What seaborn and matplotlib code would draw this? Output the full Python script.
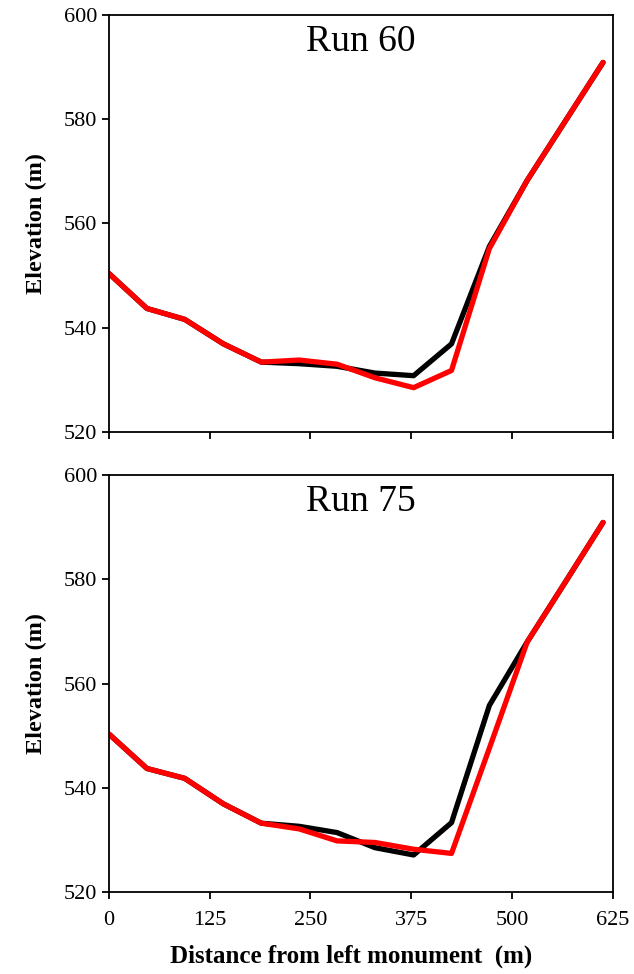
import pandas as pd
import seaborn as sns
import matplotlib
matplotlib.use('Agg')
import matplotlib.pyplot as plt

# distance from left monument (m)
distance = [0, 47, 94, 142, 189, 236, 283, 330, 378, 425, 472, 519, 566, 613]

# Run 60
run60_black = [550.4, 543.7, 541.6, 536.9, 533.4, 533.1, 532.6, 531.3, 530.8, 536.9, 555.6, 568.3, 579.6, 590.9]
run60_red = [550.4, 543.7, 541.6, 536.9, 533.4, 533.8, 533.0, 530.4, 528.5, 531.8, 555.2, 568.3, 579.6, 590.9]

# Run 75
run75_black = [550.3, 543.7, 541.8, 536.9, 533.2, 532.6, 531.4, 528.5, 527.1, 533.3, 555.8, 568.0, 579.4, 590.9]
run75_red = [550.3, 543.7, 541.8, 536.9, 533.2, 532.1, 529.8, 529.5, 528.2, 527.4, 547.6, 568.0, 579.4, 590.9]

runs = ['Run 60', 'Run 75']
series = {'Run 60': (run60_black, run60_red), 'Run 75': (run75_black, run75_red)}

sns.set_style("ticks")
plt.rcParams['font.family'] = ['Liberation Serif', 'DejaVu Serif']
plt.rcParams['text.color'] = 'black'
plt.rcParams['axes.labelcolor'] = 'black'
plt.rcParams['xtick.color'] = 'black'
plt.rcParams['ytick.color'] = 'black'

fig = plt.figure(figsize=(6.34, 9.74), dpi=100)
ax_top = fig.add_axes([0.1719, 0.5565, 0.7945, 0.4281])
ax_bot = fig.add_axes([0.1719, 0.0842, 0.7945, 0.4281])

for ax, run in zip([ax_top, ax_bot], runs):
    black, red = series[run]
    df = pd.DataFrame({'dist': distance * 2,
                       'elev': black + red,
                       'line': ['a'] * len(black) + ['b'] * len(red)})
    sns.lineplot(data=df, x='dist', y='elev', hue='line', palette=['black', '#ff0000'],
                 linewidth=3.8, legend=False, ax=ax, sort=False)
    ax.set_xlim(0, 625)
    ax.set_ylim(520, 600)
    ax.set_xticks([0, 125, 250, 375, 500, 625])
    ax.set_yticks([520, 540, 560, 580, 600])
    ax.tick_params(direction='out', length=5, width=1.3, labelsize=16, colors='black')
    ax.tick_params(axis='x', pad=9)
    for s in ax.spines.values():
        s.set_visible(True)
        s.set_linewidth(1.3)
        s.set_color('black')
    ax.set_ylabel('Elevation (m)', fontsize=17.5, fontweight='bold', labelpad=12)
    ax.set_xlabel('')
    ax.text(0.5, 0.935, run, transform=ax.transAxes, ha='center', va='center', fontsize=27)

ax_top.set_xticklabels([])
ax_bot.set_xlabel('Distance from left monument  (m)', fontsize=18, fontweight='bold', labelpad=8)
ax_bot.xaxis.set_label_coords(0.48, -0.125)

plt.savefig('out.png', dpi=100)
